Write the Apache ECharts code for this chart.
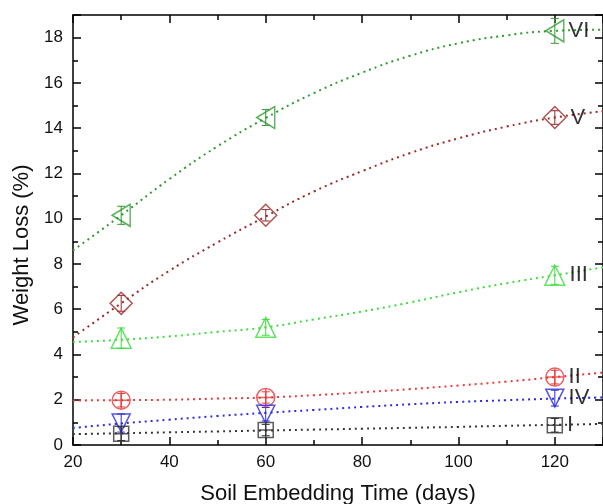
<!DOCTYPE html>
<html>
<head>
<meta charset="utf-8">
<script src="https://cdn.jsdelivr.net/npm/echarts@6/dist/echarts.min.js"></script>
<style>
html,body{margin:0;padding:0;background:#fff;}
#chart{width:603px;height:504px;}
</style>
</head>
<body>
<div id="chart"></div>
<script>
// ---- data ----
const xTickLabels = [20, 40, 60, 80, 100, 120];
const yTickLabels = [0, 2, 4, 6, 8, 10, 12, 14, 16, 18];

const xPoints = [30, 60, 120];
const valI   = [0.50, 0.66, 0.87];
const valII  = [1.98, 2.10, 3.00];
const valIII = [4.72, 5.20, 7.50];
const valIV  = [0.97, 1.36, 2.07];
const valV   = [6.26, 10.15, 14.47];
const valVI  = [10.15, 14.47, 18.30];

const errI   = [0.30, 0.25, 0.30];
const errII  = [0.30, 0.25, 0.30];
const errIII = [0.45, 0.35, 0.40];
const errIV  = [0.40, 0.30, 0.35];
const errV   = [0.35, 0.25, 0.30];
const errVI  = [0.40, 0.35, 0.55];

const xFit   = [20, 30, 40, 50, 60, 70, 80, 90, 100, 110, 120, 130];
const fitI   = [0.48, 0.52, 0.56, 0.60, 0.64, 0.68, 0.72, 0.76, 0.80, 0.85, 0.89, 0.93];
const fitII  = [1.97, 1.98, 2.00, 2.05, 2.10, 2.20, 2.33, 2.47, 2.63, 2.80, 3.00, 3.20];
const fitIII = [4.55, 4.65, 4.80, 5.00, 5.20, 5.55, 5.90, 6.30, 6.75, 7.15, 7.50, 7.85];
const fitIV  = [0.75, 0.95, 1.12, 1.28, 1.42, 1.55, 1.68, 1.80, 1.90, 1.98, 2.05, 2.10];
const fitV   = [4.75, 6.26, 7.70, 8.95, 10.10, 11.20, 12.10, 12.90, 13.55, 14.07, 14.47, 14.75];
const fitVI  = [8.60, 10.15, 11.75, 13.20, 14.45, 15.55, 16.45, 17.20, 17.75, 18.10, 18.30, 18.35];

const groups = [
  {name: 'VI',  vals: valVI,  errs: errVI,  fit: fitVI,  color: '#2f9a2f',
   symbol: 'path://M0,10L20,0L20,20Z', size: [18, 22]},
  {name: 'V',   vals: valV,   errs: errV,   fit: fitV,   color: '#9b2a2a',
   symbol: 'path://M10,0L20,10L10,20L0,10Z', size: [22, 22]},
  {name: 'III', vals: valIII, errs: errIII, fit: fitIII, color: '#3ddc3d',
   symbol: 'path://M10,0L20,20L0,20Z', size: [20, 20]},
  {name: 'II',  vals: valII,  errs: errII,  fit: fitII,  color: '#e83a3a',
   symbol: 'path://M0,10A10,10,0,1,1,20,10A10,10,0,1,1,0,10ZM10,0L10,20M0,10L20,10', size: [18, 18]},
  {name: 'IV',  vals: valIV,  errs: errIV,  fit: fitIV,  color: '#2a2ae0',
   symbol: 'path://M0,0L20,0L10,20Z', size: [18, 18]},
  {name: 'I',   vals: valI,   errs: errI,   fit: fitI,   color: '#333333',
   symbol: 'path://M0,0L20,0L20,20L0,20ZM10,0L10,20M0,10L20,10', size: [15, 15]}
];

const series = [];
groups.forEach(g => {
  series.push({
    type: 'line', name: g.name + ' fit', xAxisIndex: 0, yAxisIndex: 0,
    data: xFit.map((x, i) => [x, g.fit[i]]),
    smooth: true, showSymbol: false, silent: true, z: 2,
    lineStyle: {color: g.color, width: 2, type: [2, 4]}
  });
  series.push({
    type: 'custom', name: g.name + ' err', xAxisIndex: 0, yAxisIndex: 0, z: 3,
    data: xPoints.map((x, i) => [x, g.vals[i], g.errs[i]]),
    renderItem: function (params, api) {
      const x = api.value(0), y = api.value(1), e = api.value(2);
      const lo = api.coord([x, y - e]);
      const hi = api.coord([x, y + e]);
      const w = 4;
      const st = {stroke: g.color, lineWidth: 1, fill: null};
      return {type: 'group', children: [
        {type: 'line', shape: {x1: lo[0], y1: lo[1], x2: hi[0], y2: hi[1]}, style: st},
        {type: 'line', shape: {x1: lo[0] - w, y1: lo[1], x2: lo[0] + w, y2: lo[1]}, style: st},
        {type: 'line', shape: {x1: hi[0] - w, y1: hi[1], x2: hi[0] + w, y2: hi[1]}, style: st}
      ]};
    }
  });
  series.push({
    type: 'scatter', name: g.name, xAxisIndex: 0, yAxisIndex: 0, z: 4,
    data: xPoints.map((x, i) => [x, g.vals[i]]),
    symbol: g.symbol, symbolSize: g.size,
    itemStyle: {color: 'rgba(0,0,0,0)', borderColor: g.color, borderWidth: 1.5},
    label: {
      show: true, position: 'right', distance: 4,
      formatter: p => (p.dataIndex === xPoints.length - 1 ? g.name : ''),
      color: '#000', fontSize: 22, fontFamily: 'Liberation Sans'
    }
  });
});

const font = 'Liberation Sans';
const axisLineStyle = {color: '#000', width: 1.5};

function xAx(pos, interval, len, main) {
  return {
    type: 'value', position: pos, min: 20, max: 130, interval: interval,
    axisLine: {show: main || false, onZero: false, lineStyle: axisLineStyle},
    axisTick: {show: true, inside: true, length: len, lineStyle: {color: '#000', width: 1.5}},
    axisLabel: {show: false},
    splitLine: {show: false}
  };
}
function yAx(pos, interval, len, main) {
  return {
    type: 'value', position: pos, min: 0, max: 19, interval: interval,
    axisLine: {show: main || false, onZero: false, lineStyle: axisLineStyle},
    axisTick: {show: true, inside: true, length: len, lineStyle: {color: '#000', width: 1.5}},
    axisLabel: {show: false},
    splitLine: {show: false}
  };
}

const xMain = xAx('bottom', 20, 8, true);
xMain.axisLabel = {
  show: true, margin: 9, fontSize: 17, color: '#111', fontFamily: font,
  formatter: v => (xTickLabels.indexOf(v) >= 0 ? String(v) : '')
};
xMain.name = 'Soil Embedding Time (days)';
xMain.nameLocation = 'middle';
xMain.nameGap = 38;
xMain.nameTextStyle = {fontSize: 22, color: '#111', fontFamily: font};

const yMain = yAx('left', 2, 8, true);
yMain.axisLabel = {
  show: true, margin: 10, fontSize: 17, color: '#111', fontFamily: font,
  formatter: v => (yTickLabels.indexOf(v) >= 0 ? String(v) : '')
};
yMain.name = 'Weight Loss (%)';
yMain.nameLocation = 'middle';
yMain.nameGap = 38;
yMain.nameTextStyle = {fontSize: 22, color: '#111', fontFamily: font, padding: [0, 30, 0, 0]};

const option = {
  animation: false,
  backgroundColor: '#fff',
  grid: {left: 73, right: 0, top: 15, bottom: 59, containLabel: false, outerBoundsMode: 'none'},
  xAxis: [
    xMain,
    xAx('top', 20, 8, true),
    xAx('bottom', 10, 5, false),
    xAx('top', 10, 5, false)
  ],
  yAxis: [
    yMain,
    yAx('right', 2, 8, true),
    yAx('left', 1, 5, false),
    yAx('right', 1, 5, false)
  ],
  series: series
};

const chart = echarts.init(document.getElementById('chart'), null, {renderer: 'canvas'});
chart.setOption(option);
</script>
</body>
</html>
